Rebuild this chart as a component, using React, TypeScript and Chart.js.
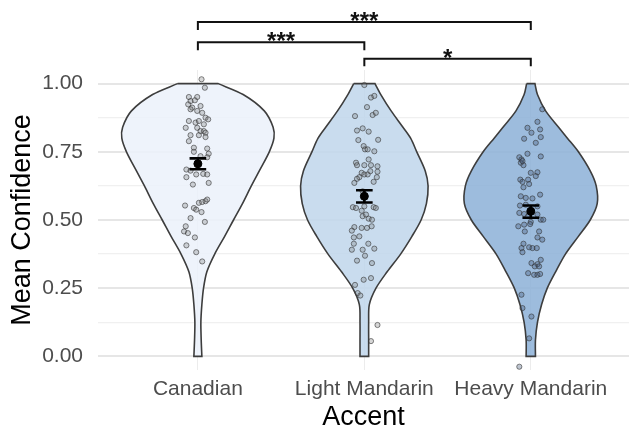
import React, { useEffect, useRef } from "react";
import { Chart, registerables } from "chart.js";

Chart.register(...registerables);

const categories = ["Canadian", "Light Mandarin", "Heavy Mandarin"];
const yTickValues = [0, 0.125, 0.25, 0.375, 0.5, 0.625, 0.75, 0.875, 1];

// violin outline: half-widths (x units) at each confidence level
const violinLevels = [1.0, 0.96, 0.9, 0.84, 0.8, 0.75, 0.68, 0.625, 0.56, 0.5, 0.44, 0.375, 0.31, 0.25, 0.19, 0.125, 0.06, 0.0];
const canadianWidths = [0.122, 0.272, 0.399, 0.452, 0.457, 0.429, 0.369, 0.321, 0.268, 0.214, 0.161, 0.101, 0.054, 0.034, 0.024, 0.018, 0.02, 0.024];
const lightWidths = [0.064, 0.099, 0.161, 0.232, 0.278, 0.315, 0.366, 0.383, 0.373, 0.341, 0.286, 0.218, 0.137, 0.07, 0.03, 0.026, 0.026, 0.026];
const heavyWidths = [0.025, 0.04, 0.089, 0.167, 0.22, 0.286, 0.357, 0.393, 0.399, 0.357, 0.286, 0.208, 0.149, 0.099, 0.065, 0.04, 0.028, 0.028];

// jittered participant means [x, y]
const canadianPoints = [
  [1.022, 1.016], [1.042, 0.985], [0.946, 0.951], [0.996, 0.951], [0.956, 0.936], [0.982, 0.939],
  [0.942, 0.924], [0.966, 0.912], [1.016, 0.918], [0.956, 0.906], [0.996, 0.9], [1.026, 0.893],
  [1.046, 0.875], [1.062, 0.869], [0.946, 0.863], [0.986, 0.857], [1.006, 0.863], [1.036, 0.851],
  [0.927, 0.838], [0.996, 0.838], [1.016, 0.826], [1.036, 0.826], [1.046, 0.82], [0.956, 0.811],
  [1.006, 0.811], [1.046, 0.804], [0.946, 0.789], [0.976, 0.765], [1.056, 0.762], [1.065, 0.743],
  [0.976, 0.75], [1.016, 0.734], [1.056, 0.73], [0.931, 0.685], [0.956, 0.681], [0.99, 0.667],
  [1.032, 0.669], [1.056, 0.667], [0.931, 0.657], [0.97, 0.63], [1.065, 0.636], [1.006, 0.563],
  [1.026, 0.566], [1.046, 0.569], [1.056, 0.575], [0.923, 0.553], [0.976, 0.544], [0.99, 0.538],
  [1.022, 0.529], [0.956, 0.507], [1.042, 0.493], [0.927, 0.477], [0.917, 0.458], [0.94, 0.452],
  [0.982, 0.436], [0.931, 0.407], [0.99, 0.382], [1.026, 0.348],
];
const lightPoints = [
  [2.0, 0.995], [2.04, 0.949], [2.06, 0.955], [2.016, 0.914], [1.944, 0.881], [2.05, 0.885],
  [2.069, 0.893], [1.956, 0.828], [1.99, 0.836], [2.026, 0.824], [1.964, 0.793], [2.083, 0.794],
  [1.996, 0.771], [2.004, 0.759], [2.02, 0.759], [2.06, 0.752], [2.026, 0.722], [1.95, 0.71],
  [1.956, 0.701], [2.0, 0.701], [2.079, 0.697], [2.04, 0.701], [1.984, 0.673], [2.0, 0.667],
  [2.02, 0.667], [2.036, 0.679], [2.079, 0.677], [1.97, 0.657], [1.956, 0.651], [1.94, 0.636],
  [2.056, 0.64], [2.075, 0.657], [1.99, 0.605], [1.931, 0.547], [1.95, 0.544], [2.0, 0.55],
  [2.056, 0.547], [2.069, 0.544], [1.984, 0.534], [1.99, 0.514], [2.026, 0.505], [2.046, 0.501],
  [2.01, 0.52], [1.94, 0.474], [1.925, 0.461], [1.984, 0.471], [2.016, 0.471], [2.044, 0.477],
  [1.97, 0.44], [1.937, 0.436], [2.024, 0.413], [1.937, 0.413], [1.925, 0.391], [1.99, 0.391],
  [2.06, 0.395], [2.004, 0.369], [1.956, 0.351], [2.046, 0.342], [1.996, 0.281], [2.04, 0.287],
  [1.944, 0.262], [1.96, 0.232], [1.976, 0.223], [2.079, 0.115], [2.04, 0.056],
];
const heavyPoints = [
  [3.069, 0.906], [3.04, 0.86], [2.98, 0.838], [3.056, 0.832], [3.004, 0.82], [2.96, 0.798],
  [3.06, 0.804], [3.03, 0.783], [2.98, 0.743], [2.931, 0.73], [2.944, 0.722], [3.06, 0.733],
  [2.94, 0.71], [2.956, 0.701], [2.95, 0.716], [3.0, 0.673], [3.04, 0.675], [3.03, 0.661],
  [2.937, 0.648], [2.95, 0.64], [2.984, 0.648], [2.99, 0.632], [2.956, 0.62], [2.94, 0.587],
  [2.97, 0.581], [3.01, 0.579], [3.056, 0.593], [2.935, 0.553], [2.97, 0.556], [3.04, 0.55],
  [2.931, 0.526], [2.96, 0.522], [2.984, 0.514], [3.0, 0.493], [3.04, 0.52], [3.06, 0.501],
  [3.075, 0.501], [2.925, 0.477], [2.96, 0.483], [2.996, 0.485], [2.964, 0.458], [3.05, 0.458],
  [3.04, 0.436], [3.069, 0.428], [2.956, 0.413], [2.944, 0.397], [2.95, 0.382], [2.99, 0.4],
  [3.01, 0.397], [3.036, 0.397], [3.004, 0.342], [3.04, 0.338], [3.06, 0.354], [3.024, 0.33],
  [3.05, 0.33], [2.984, 0.305], [3.02, 0.299], [3.04, 0.299], [3.056, 0.302], [2.944, 0.226],
  [2.95, 0.177], [3.004, 0.146], [2.99, 0.066], [2.931, -0.038],
];

const meanValues = [0.706, 0.587, 0.532];
const errLower = [0.686, 0.564, 0.508];
const errUpper = [0.726, 0.609, 0.553];

const bracketFrom = [1, 1, 2];
const bracketTo = [3, 2, 3];
const bracketY = [1.226, 1.152, 1.091];
const bracketTip = [1.197, 1.1225, 1.0637];
const sigLabels = ["***", "***", "*"];

const violinFills = ["rgba(235,241,250,0.85)", "rgba(191,214,235,0.85)", "rgba(140,176,215,0.85)"];
const FONT = '"Liberation Sans", Arial, Helvetica, sans-serif';
const VIOLIN_SCALE = 1;
const CAP = 0.05;

function violinOutline(center: number, widths: number[]) {
  const pts: { x: number; y: number }[] = [];
  const n = violinLevels.length;
  // left side, top to bottom (duplicate corners to keep them crisp)
  pts.push({ x: center - widths[0] * VIOLIN_SCALE, y: violinLevels[0] });
  for (let i = 0; i < n; i++) pts.push({ x: center - widths[i] * VIOLIN_SCALE, y: violinLevels[i] });
  pts.push({ x: center - widths[n - 1] * VIOLIN_SCALE, y: violinLevels[n - 1] });
  pts.push({ x: center + widths[n - 1] * VIOLIN_SCALE, y: violinLevels[n - 1] });
  for (let i = n - 1; i >= 0; i--) pts.push({ x: center + widths[i] * VIOLIN_SCALE, y: violinLevels[i] });
  pts.push({ x: center + widths[0] * VIOLIN_SCALE, y: violinLevels[0] });
  pts.push({ x: center - widths[0] * VIOLIN_SCALE, y: violinLevels[0] });
  return pts;
}

const sigPlugin = {
  id: "sigPlugin",
  afterDatasetsDraw(chart: any) {
    const { ctx, scales } = chart;
    const xs = scales.x;
    const ys = scales.y;
    const size = 24;
    ctx.save();
    ctx.font = `bold ${size}px ${FONT}`;
    ctx.fillStyle = "#111";
    ctx.textAlign = "center";
    ctx.textBaseline = "alphabetic";
    sigLabels.forEach((lab, i) => {
      const cx = (xs.getPixelForValue(bracketFrom[i]) + xs.getPixelForValue(bracketTo[i])) / 2;
      const py = ys.getPixelForValue(bracketY[i]);
      ctx.fillText(lab, cx, py - 6.5 + 0.57 * size);
    });
    ctx.restore();
  },
};

export default function App() {
  const canvasRef = useRef<HTMLCanvasElement | null>(null);

  useEffect(() => {
    if (!canvasRef.current) return;
    const widthSets = [canadianWidths, lightWidths, heavyWidths];
    const pointSets = [canadianPoints, lightPoints, heavyPoints];
    const datasets: any[] = [];

    widthSets.forEach((w, i) => {
      datasets.push({
        type: "scatter",
        data: violinOutline(i + 1, w),
        showLine: true,
        fill: "shape",
        backgroundColor: violinFills[i],
        borderColor: "#3d3d3d",
        borderWidth: 1.6,
        tension: 0.3,
        pointRadius: 0,
        order: 5,
      });
    });

    pointSets.forEach((pts, i) => {
      datasets.push({
        type: "scatter",
        data: pts.map(([x, y]) => ({ x, y })),
        pointRadius: 2.6,
        pointBorderWidth: 0.9,
        backgroundColor: i === 2 ? "rgba(70,90,120,0.35)" : "rgba(120,120,120,0.3)",
        borderColor: "rgba(50,50,50,0.65)",
        order: 4,
      });
    });

    categories.forEach((_, i) => {
      const c = i + 1;
      datasets.push({
        type: "scatter",
        data: [
          { x: c - CAP, y: errLower[i] },
          { x: c + CAP, y: errLower[i] },
          { x: c, y: errLower[i] },
          { x: c, y: errUpper[i] },
          { x: c - CAP, y: errUpper[i] },
          { x: c + CAP, y: errUpper[i] },
        ],
        showLine: true,
        borderColor: "#000",
        borderWidth: 2.6,
        pointRadius: 0,
        fill: false,
        order: 2,
      });
    });

    datasets.push({
      type: "scatter",
      data: meanValues.map((m, i) => ({ x: i + 1, y: m })),
      pointRadius: 4,
      backgroundColor: "#000",
      borderColor: "#000",
      order: 1,
    });

    bracketFrom.forEach((f, i) => {
      datasets.push({
        type: "scatter",
        data: [
          { x: f, y: bracketTip[i] },
          { x: f, y: bracketY[i] },
          { x: bracketTo[i], y: bracketY[i] },
          { x: bracketTo[i], y: bracketTip[i] },
        ],
        showLine: true,
        borderColor: "#111",
        borderWidth: 2,
        pointRadius: 0,
        fill: false,
        clip: false,
        order: 0,
      });
    });

    const chart = new Chart(canvasRef.current, {
      type: "scatter",
      data: { datasets },
      plugins: [sigPlugin],
      options: {
        animation: false,
        responsive: false,
        events: [],
        layout: { padding: { top: 70, left: 0, right: 0, bottom: 0 } },
        plugins: { legend: { display: false }, tooltip: { enabled: false } },
        scales: {
          x: {
            type: "linear",
            min: 0.4,
            max: 3.59,
            afterBuildTicks: (scale: any) => {
              scale.ticks = categories.map((_, i) => ({ value: i + 1 }));
            },
            afterFit: (scale: any) => {
              scale.height = 59;
            },
            ticks: {
              autoSkip: false,
              maxRotation: 0,
              padding: 7,
              color: "#4d4d4d",
              font: { family: FONT, size: 21 },
              callback: (v: any) => categories[Math.round(Number(v)) - 1] ?? "",
            },
            grid: { color: "#ececec", lineWidth: 1, drawTicks: false },
            border: { display: false },
            title: {
              display: true,
              text: "Accent",
              color: "#000",
              font: { family: FONT, size: 27, lineHeight: 0.85 },
              padding: { top: 0, bottom: 0 },
            },
          },
          y: {
            type: "linear",
            min: -0.05,
            max: 1.05,
            afterBuildTicks: (scale: any) => {
              scale.ticks = yTickValues.map((v) => ({ value: v }));
            },
            afterFit: (scale: any) => {
              scale.width = 98;
            },
            ticks: {
              autoSkip: false,
              padding: 15,
              color: "#4d4d4d",
              font: { family: FONT, size: 21 },
              callback: (v: any) => {
                const n = Number(v);
                return Math.abs((n / 0.25) - Math.round(n / 0.25)) < 1e-6 ? n.toFixed(2) : "";
              },
            },
            grid: {
              drawTicks: false,
              color: (ctx: any) => {
                const n = ctx.tick ? ctx.tick.value : 0;
                return Math.abs(n / 0.25 - Math.round(n / 0.25)) < 1e-6 ? "#e6e6e6" : "#f0f0f0";
              },
              lineWidth: (ctx: any) => {
                const n = ctx.tick ? ctx.tick.value : 0;
                return Math.abs(n / 0.25 - Math.round(n / 0.25)) < 1e-6 ? 2 : 1.2;
              },
            },
            border: { display: false },
            title: {
              display: true,
              text: "Mean Confidence",
              color: "#000",
              font: { family: FONT, size: 27, lineHeight: 1.2 },
              padding: { top: 6, bottom: 0 },
            },
          },
        },
      },
    } as any);

    return () => chart.destroy();
  }, []);

  return (
    <div style={{ position: "fixed", left: 0, top: 0, width: 634, height: 429, background: "#fff" }}>
      <canvas ref={canvasRef} width={634} height={429} style={{ display: "block" }} />
    </div>
  );
}
